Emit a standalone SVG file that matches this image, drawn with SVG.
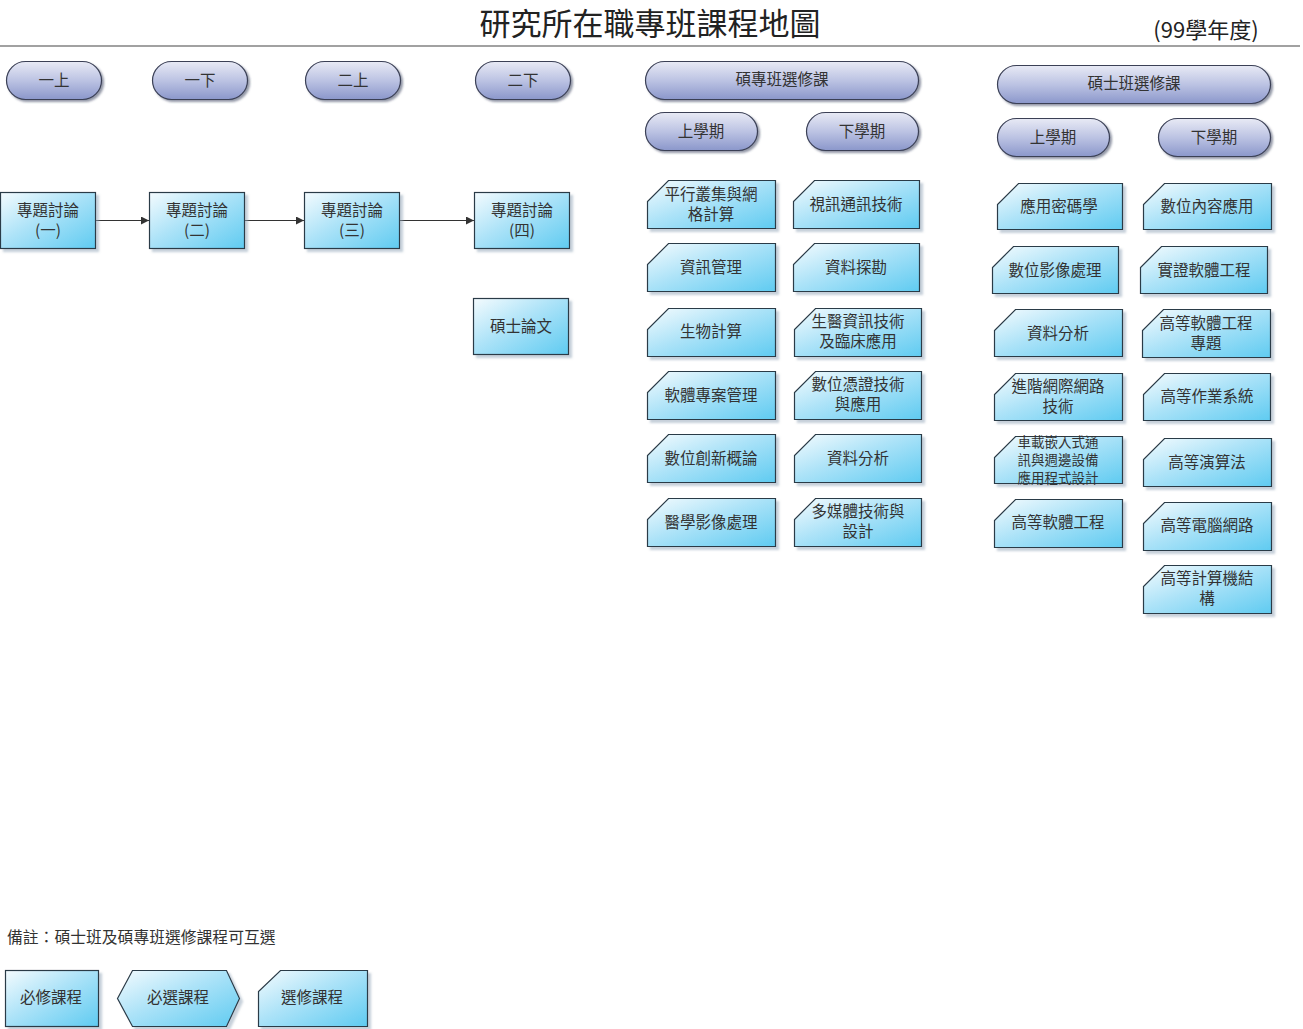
<svg xmlns="http://www.w3.org/2000/svg" width="1303" height="1029" viewBox="0 0 1303 1029">
<style>
.t{font-family:"Noto Sans CJK TC","Noto Sans CJK SC",sans-serif;fill:#333;text-anchor:middle;dominant-baseline:central;font-size:15.5px}
.s{font-size:13.5px}
.pill{fill:url(#gp);stroke:#3a3f55;stroke-width:1.2;filter:url(#sp)}
.box{fill:url(#gb);stroke:#2b3a46;stroke-width:1.2;filter:url(#sb)}
.con{stroke:#333;stroke-width:1.2;fill:none;marker-end:url(#arr)}
</style>
<defs>
<linearGradient id="gp" x1="0" y1="0" x2="0" y2="1">
<stop offset="0" stop-color="#e8eaf5"/><stop offset="0.5" stop-color="#bcc3e3"/><stop offset="1" stop-color="#8b97cb"/>
</linearGradient>
<linearGradient id="gb" x1="0" y1="0" x2="1" y2="1">
<stop offset="0" stop-color="#f4fbfe"/><stop offset="0.45" stop-color="#ade3f8"/><stop offset="1" stop-color="#5fcbf1"/>
</linearGradient>
<filter id="sp" x="-10%" y="-20%" width="130%" height="160%"><feDropShadow dx="2" dy="2" stdDeviation="1" flood-color="#3a4260" flood-opacity="0.55"/></filter>
<filter id="sb" x="-10%" y="-20%" width="130%" height="160%"><feDropShadow dx="3" dy="3" stdDeviation="1.2" flood-color="#8fa2b5" flood-opacity="0.5"/></filter>
<marker id="arr" viewBox="0 0 10 10" refX="10" refY="5" markerWidth="8" markerHeight="8" markerUnits="userSpaceOnUse" orient="auto"><path d="M0,0 L10,5 L0,10 Z" fill="#333"/></marker>
</defs>
<rect width="1303" height="1029" fill="#fff"/>
<g id="title">
<text x="650" y="21" class="t" style="font-size:31px;fill:#222">研究所在職專班課程地圖</text>
<text x="1206" y="28" class="t" style="font-size:22px;fill:#222">(99學年度)</text>
<line x1="0" y1="46" x2="1300" y2="46" stroke="#444" stroke-width="1.2"/>
</g>
<g id="connectors">
<line class="con" x1="96" y1="220.5" x2="149" y2="220.5"/>
<line class="con" x1="245" y1="220.5" x2="304" y2="220.5"/>
<line class="con" x1="400" y1="220.5" x2="474" y2="220.5"/>
</g>
<g id="h-1a"><rect class="pill" x="6.5" y="61.5" width="95" height="38" rx="19"/><text class="t" x="54" y="79">一上</text></g>
<g id="h-1b"><rect class="pill" x="152.5" y="61.5" width="95" height="38" rx="19"/><text class="t" x="200" y="79">一下</text></g>
<g id="h-2a"><rect class="pill" x="305.5" y="61.5" width="95" height="38" rx="19"/><text class="t" x="353" y="79">二上</text></g>
<g id="h-2b"><rect class="pill" x="475.5" y="61.5" width="95" height="38" rx="19"/><text class="t" x="523" y="79">二下</text></g>
<g id="h-msp"><rect class="pill" x="645.5" y="61.5" width="273" height="38" rx="19"/><text class="t" x="782" y="78">碩專班選修課</text></g>
<g id="h-msp-up"><rect class="pill" x="645.5" y="112.5" width="112" height="38" rx="19"/><text class="t" x="701" y="130">上學期</text></g>
<g id="h-msp-dn"><rect class="pill" x="806.5" y="112.5" width="112" height="38" rx="19"/><text class="t" x="862" y="130">下學期</text></g>
<g id="h-msc"><rect class="pill" x="997.5" y="65.5" width="273" height="38" rx="19"/><text class="t" x="1134" y="82">碩士班選修課</text></g>
<g id="h-msc-up"><rect class="pill" x="997.5" y="118.5" width="112" height="38" rx="19"/><text class="t" x="1053" y="136">上學期</text></g>
<g id="h-msc-dn"><rect class="pill" x="1158.5" y="118.5" width="112" height="38" rx="19"/><text class="t" x="1214" y="136">下學期</text></g>
<g id="r1"><rect class="box" x="0.5" y="192.5" width="95" height="56"/><text class="t" x="48" y="209">專題討論</text><text class="t" x="48" y="229">(一)</text></g>
<g id="r2"><rect class="box" x="149.5" y="192.5" width="95" height="56"/><text class="t" x="197" y="209">專題討論</text><text class="t" x="197" y="229">(二)</text></g>
<g id="r3"><rect class="box" x="304.5" y="192.5" width="95" height="56"/><text class="t" x="352" y="209">專題討論</text><text class="t" x="352" y="229">(三)</text></g>
<g id="r4"><rect class="box" x="474.5" y="192.5" width="95" height="56"/><text class="t" x="522" y="209">專題討論</text><text class="t" x="522" y="229">(四)</text></g>
<g id="thesis"><rect class="box" x="473.5" y="298.5" width="95" height="56"/><text class="t" x="521" y="325">碩士論文</text></g>
<g id="e1"><path class="box" d="M668.5,180.5 H775.5 V228.5 H647.5 V201.5 Z"/><text class="t" x="711" y="193">平行叢集與網</text><text class="t" x="711" y="213">格計算</text></g>
<g id="e2"><path class="box" d="M668.5,243.5 H775.5 V291.5 H647.5 V264.5 Z"/><text class="t" x="711" y="266">資訊管理</text></g>
<g id="e3"><path class="box" d="M668.5,308.5 H775.5 V356.5 H647.5 V329.5 Z"/><text class="t" x="711" y="330">生物計算</text></g>
<g id="e4"><path class="box" d="M668.5,371.5 H775.5 V419.5 H647.5 V392.5 Z"/><text class="t" x="711" y="394">軟體專案管理</text></g>
<g id="e5"><path class="box" d="M668.5,434.5 H775.5 V482.5 H647.5 V455.5 Z"/><text class="t" x="711" y="457">數位創新概論</text></g>
<g id="e6"><path class="box" d="M668.5,498.5 H775.5 V546.5 H647.5 V519.5 Z"/><text class="t" x="711" y="521">醫學影像處理</text></g>
<g id="e7"><path class="box" d="M814.5,180.5 H919.5 V228.5 H793.5 V201.5 Z"/><text class="t" x="856" y="203">視訊通訊技術</text></g>
<g id="e8"><path class="box" d="M814.5,243.5 H919.5 V291.5 H793.5 V264.5 Z"/><text class="t" x="856" y="266">資料探勘</text></g>
<g id="e9"><path class="box" d="M815.5,308.5 H921.5 V356.5 H794.5 V329.5 Z"/><text class="t" x="858" y="320">生醫資訊技術</text><text class="t" x="858" y="340">及臨床應用</text></g>
<g id="e10"><path class="box" d="M815.5,371.5 H921.5 V419.5 H794.5 V392.5 Z"/><text class="t" x="858" y="383">數位憑證技術</text><text class="t" x="858" y="403">與應用</text></g>
<g id="e11"><path class="box" d="M815.5,434.5 H921.5 V482.5 H794.5 V455.5 Z"/><text class="t" x="858" y="457">資料分析</text></g>
<g id="e12"><path class="box" d="M815.5,498.5 H921.5 V546.5 H794.5 V519.5 Z"/><text class="t" x="858" y="510">多媒體技術與</text><text class="t" x="858" y="530">設計</text></g>
<g id="m1"><path class="box" d="M1018.5,183.5 H1122.5 V229.5 H997.5 V204.5 Z"/><text class="t" x="1059" y="205">應用密碼學</text></g>
<g id="m2"><path class="box" d="M1013.5,246.5 H1118.5 V293.5 H992.5 V267.5 Z"/><text class="t" x="1055" y="269">數位影像處理</text></g>
<g id="m3"><path class="box" d="M1015.5,309.5 H1122.5 V356.5 H994.5 V330.5 Z"/><text class="t" x="1058" y="332">資料分析</text></g>
<g id="m4"><path class="box" d="M1015.5,373.5 H1122.5 V420.5 H994.5 V394.5 Z"/><text class="t" x="1058" y="385">進階網際網路</text><text class="t" x="1058" y="405">技術</text></g>
<g id="m5"><path class="box" d="M1015.5,436.5 H1122.5 V483.5 H994.5 V457.5 Z"/><text class="t s" x="1058" y="441">車載嵌入式通</text><text class="t s" x="1058" y="459">訊與週邊設備</text><text class="t s" x="1058" y="477">應用程式設計</text></g>
<g id="m6"><path class="box" d="M1015.5,499.5 H1122.5 V547.5 H994.5 V520.5 Z"/><text class="t" x="1058" y="521">高等軟體工程</text></g>
<g id="m7"><path class="box" d="M1164.5,183.5 H1271.5 V229.5 H1143.5 V204.5 Z"/><text class="t" x="1207" y="205">數位內容應用</text></g>
<g id="m8"><path class="box" d="M1161.5,246.5 H1267.5 V293.5 H1140.5 V267.5 Z"/><text class="t" x="1204" y="269">實證軟體工程</text></g>
<g id="m9"><path class="box" d="M1163.5,309.5 H1270.5 V357.5 H1142.5 V330.5 Z"/><text class="t" x="1206" y="322">高等軟體工程</text><text class="t" x="1206" y="342">專題</text></g>
<g id="m10"><path class="box" d="M1164.5,373.5 H1270.5 V420.5 H1143.5 V394.5 Z"/><text class="t" x="1207" y="395">高等作業系統</text></g>
<g id="m11"><path class="box" d="M1164.5,438.5 H1271.5 V486.5 H1143.5 V459.5 Z"/><text class="t" x="1207" y="461">高等演算法</text></g>
<g id="m12"><path class="box" d="M1164.5,502.5 H1271.5 V550.5 H1143.5 V523.5 Z"/><text class="t" x="1207" y="524">高等電腦網路</text></g>
<g id="m13"><path class="box" d="M1164.5,565.5 H1271.5 V613.5 H1143.5 V586.5 Z"/><text class="t" x="1207" y="577">高等計算機結</text><text class="t" x="1207" y="597">構</text></g>
<g id="note"><text class="t" x="7" y="936" style="text-anchor:start;font-size:15.8px">備註：碩士班及碩專班選修課程可互選</text></g>
<g id="lg-req"><rect class="box" x="5.5" y="970.5" width="93" height="56"/><text class="t" x="51" y="996">必修課程</text></g>
<g id="lg-sel"><path class="box" d="M117.5,998.5 L132.5,970.5 H226.5 L239.5,998.5 L226.5,1026.5 H132.5 Z"/><text class="t" x="178" y="996">必選課程</text></g>
<g id="lg-ele"><path class="box" d="M280.5,970.5 H367.5 V1026.5 H258.5 V991.5 Z"/><text class="t" x="312" y="996">選修課程</text></g>
</svg>
